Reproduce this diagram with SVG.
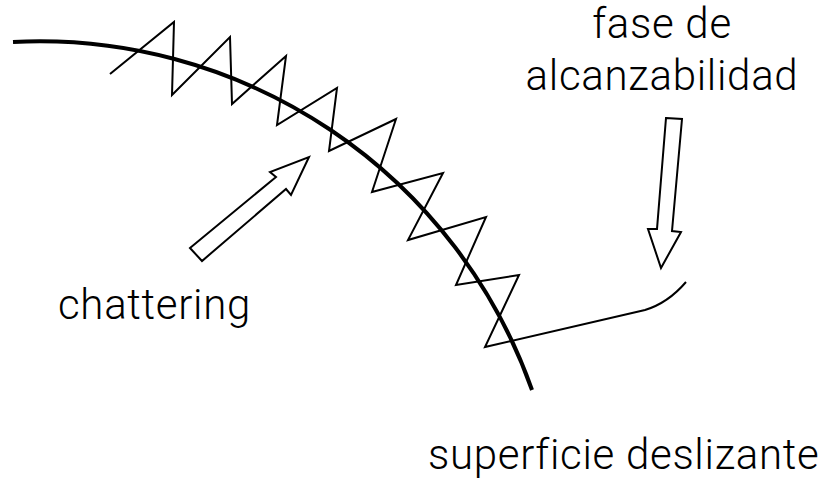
<svg xmlns="http://www.w3.org/2000/svg" width="823" height="483" viewBox="0 0 823 483">
<style>
.thin{fill:none;stroke:#000;stroke-width:2;stroke-linejoin:miter}
.arrow{fill:#fff;stroke:#000;stroke-width:2;stroke-linejoin:miter}
.lbl{font-family:Roboto,"Liberation Sans",sans-serif;font-size:42px;font-weight:300;letter-spacing:0.7px;fill:#000}
</style>
<rect width="823" height="483" fill="#fff"/>
<g id="connectors">
<path id="zigzag" class="thin" d="M110,74 L174,22 L172,95 L230,37 L232,104 L286,56 L277,125 L337,88 L329,151 L396,119 L372,192 L443,173 L408,240 L486,217 L456,285 L519,275 L485,347 L645,310 Q668,303 686,282"/>
<path id="chattering-arrow" class="arrow" d="M190,248 L276,177 L270,172 L309,157 L291,195 L286,189 L202,261 Z"/>
<path id="reach-arrow" class="arrow" d="M666,118 L682,119 L672,231 L681,232 L661,268 L648,229 L657,229 Z"/>
</g>
<g id="sliding-surface">
<path d="M13,42 A522,522 0 0 1 532,390" fill="none" stroke="#000" stroke-width="4"/>
</g>
<g id="label-fase"><text class="lbl" x="662" y="38" text-anchor="middle">fase de</text><text class="lbl" x="662" y="90" text-anchor="middle">alcanzabilidad</text></g>
<g id="label-chattering"><text class="lbl" x="58" y="319">chattering</text></g>
<g id="label-superficie"><text class="lbl" x="428" y="469">superficie deslizante</text></g>
</svg>
